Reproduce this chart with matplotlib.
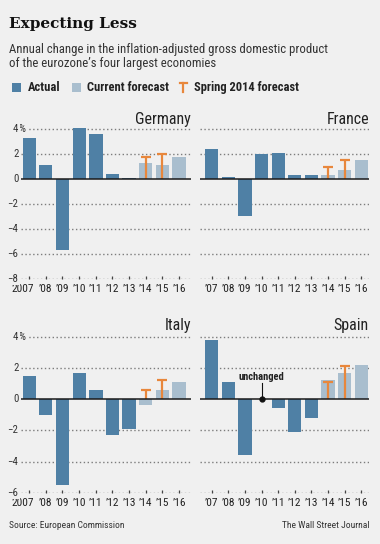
import matplotlib
matplotlib.use('Agg')
import matplotlib.pyplot as plt
from matplotlib import font_manager, transforms
from matplotlib.patches import Rectangle
from matplotlib.lines import Line2D

W, H = 380, 544
BG = '#f0f0f0'
ACTUAL = '#4f80a5'
CURRENT = '#a9bece'
SPRING = '#e8873c'
TXT = '#222222'
GRID = '#7c7c7c'

# data
years = list(range(2007, 2017))
labels_full = ['2007', '’08', '’09', '’10', '’11', '’12', '’13', '’14', '’15', '’16']
labels_short = ['’07', '’08', '’09', '’10', '’11', '’12', '’13', '’14', '’15', '’16']
actual_years = years[:7]
current_years = years[7:]
spring_years = years[7:9]

germany_actual = [3.3, 1.1, -5.7, 4.1, 3.6, 0.4, 0.1]
germany_current = [1.3, 1.1, 1.8]
germany_spring = [1.8, 2.0]

france_actual = [2.4, 0.2, -3.0, 2.0, 2.1, 0.3, 0.3]
france_current = [0.3, 0.7, 1.5]
france_spring = [1.0, 1.5]

italy_actual = [1.5, -1.0, -5.5, 1.7, 0.6, -2.3, -1.9]
italy_current = [-0.4, 0.6, 1.1]
italy_spring = [0.6, 1.2]

spain_actual = [3.8, 1.1, -3.6, 0.0, -0.6, -2.1, -1.2]
spain_current = [1.2, 1.7, 2.2]
spain_spring = [1.1, 2.1]

top_ticks = [4, 2, 0, -2, -4, -6, -8]
bottom_ticks = [4, 2, 0, -2, -4, -6]
legend_labels = ['Actual', 'Current forecast', 'Spring 2014 forecast']

names = set(f.name for f in font_manager.fontManager.ttflist)


def pick(*cands):
    for c in cands:
        if c in names:
            return c
    return 'DejaVu Sans'


NARROW = pick('Liberation Sans Narrow', 'Arial Narrow', 'Roboto Condensed', 'Liberation Sans')
plt.rcParams['font.family'] = [NARROW, 'DejaVu Sans']


def fx(px):
    return px / W


def fy(py):
    return 1 - py / H


fig = plt.figure(figsize=(W / 100, H / 100), dpi=100, facecolor=BG)


def panel(left, right, top, bottom, ylim, xlim, name, act, cur, spr, xlabels, yticks, show_y):
    ax = fig.add_axes([fx(left), fy(bottom), (right - left) / W, (bottom - top) / H])
    ax.set_facecolor('none')
    for s in ax.spines.values():
        s.set_visible(False)
    ax.set_xlim(*xlim)
    ax.set_ylim(*ylim)
    # dotted gridlines across the whole panel width
    gy = [v for v in yticks if v != 0]
    ax.hlines(gy, xlim[0], xlim[1], colors=GRID, linewidths=1.0,
              linestyles=[(0, (1, 1.8))], zorder=1.5)
    ax.set_yticks([])
    xa = [years.index(y) for y in actual_years]
    xc = [years.index(y) for y in current_years]
    xs = [years.index(y) for y in spring_years]
    ax.bar(xa, act, width=0.8, color=ACTUAL, zorder=2)
    ax.bar(xc, cur, width=0.8, color=CURRENT, zorder=2)
    ax.vlines(xs, 0, spr, color=SPRING, lw=1.6, zorder=3)
    ax.plot(xs, spr, ls='none', marker='_', ms=7, mew=1.6, color=SPRING, zorder=3)
    ax.axhline(0, color='#1a1a1a', lw=1.1, zorder=4)
    ax.set_xticks(range(len(years)))
    ax.set_xticklabels(xlabels)
    ax.tick_params(axis='x', direction='in', length=2.5, width=0.9, color='#444444',
                   pad=3.5, labelsize=8.2, labelcolor=TXT)
    # keep the two year digits under the tick for the full "2007" label
    if xlabels[0] == '2007':
        lab0 = ax.get_xticklabels()[0]
        lab0.set_transform(lab0.get_transform() +
                           transforms.ScaledTranslation(-0.06, 0, fig.dpi_scale_trans))
    fig.text(fx(right), fy(top - 5), name, ha='right', va='center', fontsize=11.5, color=TXT)
    if show_y:
        tr = transforms.blended_transform_factory(fig.transFigure, ax.transData)
        for v in yticks:
            lab = str(abs(v)) if v >= 0 else '\u2212' + str(abs(v))
            ax.text(fx(18.5), v, lab, transform=tr, ha='right', va='center', fontsize=7.8, color='#333333',
                    bbox=dict(facecolor=BG, edgecolor='none', pad=0.8), zorder=6)
            if v == yticks[0]:
                ax.text(fx(18.5), v, '%', transform=tr, ha='left', va='center', fontsize=7.8, color='#333333',
                        bbox=dict(facecolor=BG, edgecolor='none', pad=0.8), zorder=5)
    return ax


panel(21, 191, 124.3, 278.7, (-8, 4.4), (-0.49, 9.71), 'Germany',
      germany_actual, germany_current, germany_spring, labels_full, top_ticks, True)
panel(200, 369, 124.3, 278.7, (-8, 4.4), (-0.70, 9.46), 'France',
      france_actual, france_current, france_spring, labels_short, top_ticks, False)
panel(21, 191, 330.5, 492.7, (-6, 4.4), (-0.49, 9.71), 'Italy',
      italy_actual, italy_current, italy_spring, labels_full, bottom_ticks, True)
sp = panel(200, 369, 330.5, 492.7, (-6, 4.4), (-0.70, 9.46), 'Spain',
           spain_actual, spain_current, spain_spring, labels_short, bottom_ticks, False)

# unchanged note for Spain 2010
i10 = years.index(2010)
sp.plot([i10, i10], [0, 1.05], color='#111111', lw=0.8, zorder=5)
sp.plot(i10, 0, 'o', ms=3.5, color='#111111', zorder=6)
sp.text(i10, 1.45, 'unchanged', ha='center', va='center', fontsize=7.6, fontweight='bold', color=TXT)

# header
fig.text(fx(9), fy(24), 'Expecting Less', fontsize=11, fontweight='bold',
         family='DejaVu Serif', color='#111111', va='center')
fig.text(fx(9), fy(50), 'Annual change in the inflation-adjusted gross domestic product',
         fontsize=9.2, color='#333333', va='center')
fig.text(fx(9), fy(64), 'of the eurozone’s four largest economies',
         fontsize=9.2, color='#333333', va='center')

# legend
fig.add_artist(Rectangle((fx(12), fy(92)), 9 / W, 9 / H, transform=fig.transFigure,
                         facecolor=ACTUAL, edgecolor='none'))
fig.text(fx(28), fy(87.5), legend_labels[0], fontsize=9, fontweight='bold', color=TXT, va='center')
fig.add_artist(Rectangle((fx(72), fy(92)), 9 / W, 9 / H, transform=fig.transFigure,
                         facecolor=CURRENT, edgecolor='none'))
fig.text(fx(87), fy(87.5), legend_labels[1], fontsize=9, fontweight='bold', color=TXT, va='center')
fig.add_artist(Line2D([fx(183), fx(183)], [fy(92), fy(83)], transform=fig.transFigure,
                      color=SPRING, lw=1.6))
fig.add_artist(Line2D([fx(179.5), fx(186.5)], [fy(83), fy(83)], transform=fig.transFigure,
                      color=SPRING, lw=1.6))
fig.text(fx(194), fy(87.5), legend_labels[2], fontsize=9, fontweight='bold', color=TXT, va='center')

# footer
fig.text(fx(9), fy(525), 'Source: European Commission', fontsize=6.8, color='#333333', va='center')
fig.text(fx(369), fy(525), 'The Wall Street Journal', fontsize=6.8, color='#333333', va='center', ha='right')

fig.savefig('out.png', dpi=100, facecolor=BG)
